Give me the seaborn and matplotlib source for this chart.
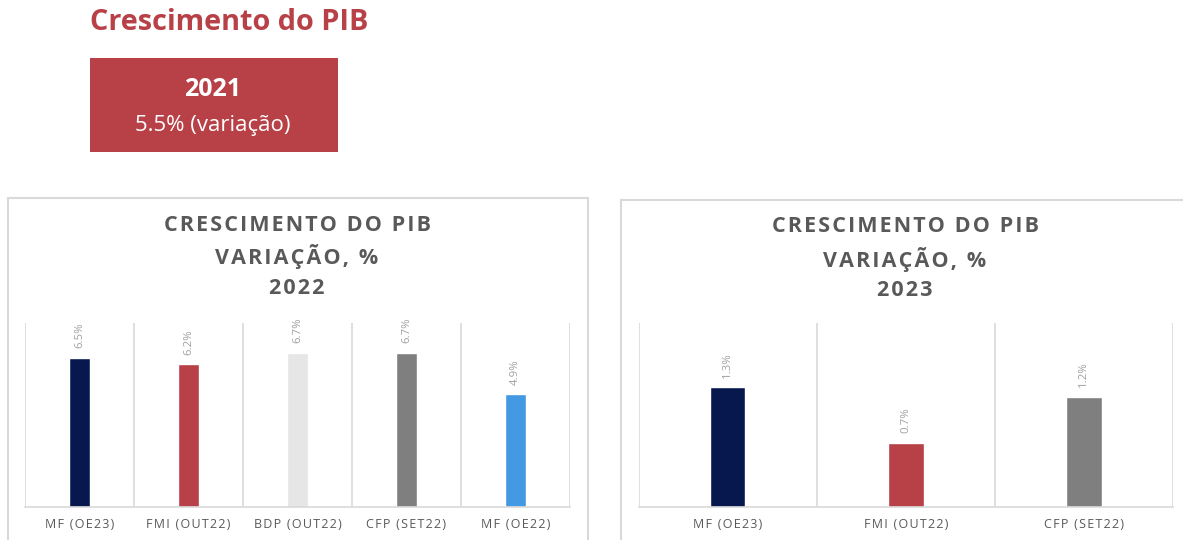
import matplotlib
matplotlib.use("Agg")
import matplotlib.pyplot as plt
from matplotlib.patches import Rectangle
import numpy as np
import pandas as pd
import seaborn as sns

# ---- data ----
cats_2022 = ["MF (OE23)", "FMI (OUT22)", "BDP (OUT22)", "CFP (SET22)", "MF (OE22)"]
vals_2022 = [6.5, 6.2, 6.7, 6.7, 4.9]
colors_2022 = ["#07184F", "#B84047", "#E6E6E6", "#7F7F7F", "#4499E3"]

cats_2023 = ["MF (OE23)", "FMI (OUT22)", "CFP (SET22)"]
vals_2023 = [1.3, 0.7, 1.2]
colors_2023 = ["#07184F", "#B84047", "#7F7F7F"]

title_lines_2022 = ["CRESCIMENTO DO PIB", "VARIAÇÃO, %", "2022"]
title_lines_2023 = ["CRESCIMENTO DO PIB", "VARIAÇÃO, %", "2023"]
main_title = "Crescimento do PIB"
box_year = "2021"
box_value = "5.5% (variação)"

sns.set_theme(style="white")
plt.rcParams['font.family'] = ['Open Sans', 'DejaVu Sans']

W, H = 1183, 540
fig = plt.figure(figsize=(W / 100, H / 100), dpi=100)


def fx(px):
    return px / W


def fy(py):
    return 1 - py / H


def spaced(s, sep):
    return sep.join(s)


RED = "#B84047"
TITLE_GRAY = "#595959"

# main title
fig.text(fx(90), fy(22), main_title, color=RED, fontsize=20.8, fontweight="bold",
         ha="left", va="center")

# red box
fig.patches.append(Rectangle((fx(90), fy(152)), fx(338) - fx(90), fy(58) - fy(152),
                             transform=fig.transFigure, facecolor=RED, edgecolor="none"))
fig.text(fx(213), fy(90), box_year, color="white", fontsize=18, fontweight="bold",
         ha="center", va="center")
fig.text(fx(213), fy(125), box_value, color="white", fontsize=16,
         ha="center", va="center")

# panel frames
for (x0, y0, x1, y1) in [(8, 198, 588, 560), (621, 200, 1200, 560)]:
    fig.patches.append(Rectangle((fx(x0), fy(y1)), fx(x1) - fx(x0), fy(y0) - fy(y1),
                                 transform=fig.transFigure, facecolor="none",
                                 edgecolor="#D9D9D9", linewidth=1.5))


def draw(ax, cats, vals, colors, ymax):
    df = pd.DataFrame({"cat": cats, "val": vals})
    sns.barplot(data=df, x="cat", y="val", hue="cat", palette=colors, order=cats,
                hue_order=cats, width=0.2, legend=False, ax=ax, saturation=1)
    ax.set_ylim(0, ymax)
    ax.set_xlim(-0.5, len(cats) - 0.5)
    ax.set_xlabel("")
    ax.set_ylabel("")
    ax.set_yticks([])
    ax.set_xticks(range(len(cats)))
    ax.set_xticklabels([spaced(c, "\u200a") for c in cats], fontsize=9, color=TITLE_GRAY)
    ax.set_xticks(np.arange(len(cats) + 1) - 0.5, minor=True)
    ax.tick_params(axis="x", which="both", length=0, pad=8)
    ax.grid(False)
    ax.grid(True, axis="x", which="minor", color="#D9D9D9", linewidth=1.2)
    for s in ["top", "left", "right"]:
        ax.spines[s].set_visible(False)
    ax.spines["bottom"].set_color("#D9D9D9")
    ax.spines["bottom"].set_linewidth(1.2)
    ax.set_facecolor("none")
    for cont, v in zip(ax.containers, vals):
        ax.bar_label(cont, labels=[f"{v}%"], rotation=90, padding=7,
                     fontsize=8.2, color="#A0A0A0")


ax1 = fig.add_axes([fx(25), fy(507), fx(570) - fx(25), fy(323) - fy(507)])
draw(ax1, cats_2022, vals_2022, colors_2022, 8)
ax2 = fig.add_axes([fx(638.5), fy(507), fx(1173) - fx(638.5), fy(323) - fy(507)])
draw(ax2, cats_2023, vals_2023, colors_2023, 2)

for cx, lines, ys in [(297, title_lines_2022, (225, 257, 288)),
                      (905, title_lines_2023, (227, 259, 290))]:
    for line, y in zip(lines, ys):
        fig.text(fx(cx), fy(y), spaced(line, "\u200a"), color=TITLE_GRAY, fontsize=15.5,
                 fontweight="bold", ha="center", va="center")

fig.savefig("out.png", dpi=100)
